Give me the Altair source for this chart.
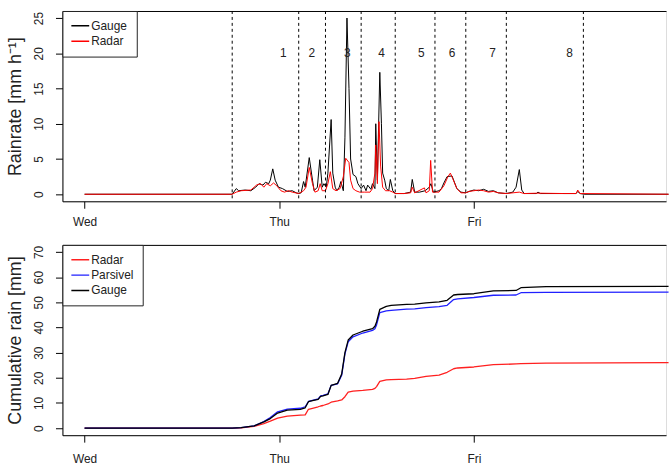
import altair as alt
import pandas as pd

FONT = "Liberation Sans"

# ---------------- top panel: rain rate (hours since Wed 00:00) ----------------
gauge_t = [0, 18.2, 18.7, 19.0, 19.8, 20.5, 21.1, 21.5, 22.0, 22.3, 22.7, 22.9, 23.2, 23.5, 23.9,
           24.4, 25.0, 25.6, 26.1, 26.4, 26.7, 27.0, 27.2, 27.7, 28.1, 28.3, 28.7, 29.0, 29.3, 29.5,
           29.8, 30.0, 30.4, 30.6, 30.9, 31.1, 31.4, 31.6, 31.9, 32.1, 32.35, 32.6, 32.8, 33.1, 33.45,
           33.7, 34.1, 34.4, 34.7, 34.9, 35.3, 35.5, 35.8, 35.9, 36.1, 36.4, 36.6, 36.75, 37.0, 37.2,
           37.5, 37.7, 38.0, 38.3, 39.4, 40.2, 40.4, 40.7, 41.3, 42.0, 42.5, 42.7, 43.0, 43.7, 44.0,
           44.3, 44.7, 45.3, 45.5, 45.9, 46.4, 47.0, 47.4, 48.0, 48.6, 49.2, 49.8, 50.4, 51.0, 52.0,
           52.8, 53.2, 53.6, 53.9, 54.2, 55.7, 55.9, 56.2, 59.1, 60.6, 60.8, 61.1, 61.6, 72.0]
gauge_v = [0, 0, 0.8, 0.5, 0.6, 0.5, 1.0, 1.5, 1.3, 1.7, 1.5, 2.0, 3.6, 2.0, 1.0,
           0.8, 0.4, 0.5, 0.2, 0.1, 0.2, 1.8, 1.0, 5.2, 2.0, 0.5, 1.0, 4.9, 1.0, 1.5,
           1.0, 3.0, 10.6, 3.0, 1.0, 0.5, 1.0, 1.8, 0.5, 8.0, 25.0, 15.0, 5.0, 2.8, 2.5,
           1.5, 0.8, 1.3, 0.5, 1.3, 0.7, 1.5, 0.8, 10.0, 2.0, 17.3, 10.0, 3.0, 2.0, 0.8,
           0.5, 2.1, 0.5, 0.1, 0.1, 0.3, 2.1, 0.3, 0.3, 0.5, 1.0, 1.5, 0.3, 0.5, 0.8,
           1.6, 2.5, 2.6, 2.0, 0.8, 0.3, 0.2, 0.4, 0.6, 0.5, 0.7, 0.4, 0.5, 0.2, 0.1,
           0.3, 1.0, 3.5, 0.6, 0.1, 0.1, 0.3, 0.1, 0.1, 0.1, 0.4, 0.1, 0.0, 0.0]

radar_t = [0, 18.2, 18.7, 19.3, 20.5, 21.2, 21.7, 22.1, 22.45, 22.9, 23.3, 23.7, 24.2, 24.65, 25.1,
           25.6, 26.4, 27.0, 27.3, 27.7, 28.1, 28.4, 28.8, 29.05, 29.3, 29.7, 30.0, 30.3, 30.6, 31.0,
           31.5, 31.9, 32.2, 32.6, 32.8, 33.1, 33.45, 33.9, 34.5, 35.2, 35.5, 35.8, 35.9, 36.1, 36.3,
           36.5, 36.75, 37.1, 37.6, 38.0, 38.3, 39.4, 40.2, 40.4, 40.7, 41.9, 42.1, 42.5, 42.67, 42.9,
           43.7, 44.3, 44.8, 45.1, 45.4, 45.9, 46.4, 47.0, 47.4, 48.0, 48.6, 49.2, 49.8, 50.4, 51.0,
           52.0, 53.6, 54.2, 55.9, 59.1, 60.6, 60.8, 61.1, 72.0]
radar_v = [0, 0, 0.3, 0.5, 0.6, 1.3, 1.5, 1.0, 1.5, 1.2, 1.6, 1.2, 0.5, 0.3, 0.5,
           0.3, 0.1, 0.5, 1.0, 3.8, 1.5, 0.3, 0.5, 1.5, 0.5, 0.5, 1.5, 3.2, 0.8, 0.5,
           0.8, 2.5, 5.1, 4.5, 2.0, 0.8, 0.5, 0.3, 0.3, 0.3, 0.8, 3.0, 7.0, 1.5, 10.3,
           4.0, 1.0, 0.5, 0.5, 0.3, 0.1, 0.1, 0.2, 1.0, 0.2, 0.9, 0.2, 0.5, 4.8, 0.3,
           0.3, 1.2, 2.5, 3.0, 2.2, 0.8, 0.2, 0.2, 0.4, 0.5, 0.6, 0.5, 0.3, 0.4, 0.2,
           0.1, 0.3, 0.1, 0.15, 0.1, 0.1, 0.6, 0.1, 0.0]

sep_t = [18.2, 26.4, 29.7, 34.1, 38.3, 43.2, 47.0, 52.0, 61.5]
event_t = [24.5, 28.0, 32.4, 36.6, 41.5, 45.3, 50.3, 59.8]
event_lab = ["1", "2", "3", "4", "5", "6", "7", "8"]
event_y = 20

# ---------------- bottom panel: cumulative rain ----------------
cum_t = [0, 18.2, 19.3, 20.9, 22.1, 22.9, 23.8, 25.0, 26.6, 27.2, 27.6, 28.1, 28.8, 29.1, 29.4,
         30.0, 30.4, 31.2, 31.7, 32.1, 32.5, 33.1, 34.3, 35.5, 35.8, 36.0, 36.4, 37.2, 37.8, 39.7,
         40.7, 42.1, 43.7, 44.7, 45.5, 46.0, 48.0, 50.4, 53.2, 53.8, 56.9, 72.0]
cum_gauge = [0, 0, 0.2, 0.9, 2.5, 3.8, 6.0, 7.2, 7.5, 8.1, 10.5, 10.9, 11.4, 12.6, 12.8,
             13.4, 17.0, 17.8, 21.5, 30.0, 35.0, 37.0, 38.5, 39.5, 40.5, 42.2, 47.2, 48.4, 48.8, 49.2,
             49.3, 49.8, 50.2, 50.8, 52.9, 53.1, 53.4, 54.5, 54.7, 55.8, 56.2, 56.3]
cum_parsivel = [0, 0, 0.2, 0.9, 2.6, 4.2, 6.5, 7.6, 7.9, 8.5, 10.6, 11.0, 11.6, 12.8, 13.0,
                13.6, 17.0, 17.6, 21.0, 29.5, 34.3, 36.3, 37.8, 38.8, 39.5, 41.0, 45.9, 46.6, 46.8, 47.3,
                47.4, 47.9, 48.3, 48.8, 51.1, 51.4, 51.9, 52.8, 52.9, 53.8, 53.9, 54.0]
cum_radar = [0, 0, 0.1, 0.7, 1.8, 2.8, 4.0, 4.8, 5.2, 5.3, 7.5, 7.9, 8.5, 8.8, 9.0,
             9.6, 10.3, 10.8, 11.2, 12.5, 14.3, 14.7, 15.0, 15.4, 15.8, 16.5, 18.6, 19.2, 19.3, 19.5,
             19.8, 20.6, 21.1, 22.2, 23.6, 23.9, 24.3, 25.2, 25.5, 25.6, 25.8, 26.0]

day_ticks = [0, 24, 48, 72]
day_labels = ["Wed", "Thu", "Fri", "Sat"]
rate_ticks = [0, 5, 10, 15, 20, 25]
cum_ticks = [0, 10, 20, 30, 40, 50, 60, 70]

# ---------------- build tables ----------------
top_df = pd.concat([
    pd.DataFrame({"t": gauge_t, "v": gauge_v, "series": "Gauge"}),
    pd.DataFrame({"t": radar_t, "v": radar_v, "series": "Radar"}),
])
sep_df = pd.DataFrame({"t": sep_t})
ev_df = pd.DataFrame({"t": event_t, "y": [event_y] * len(event_t), "label": event_lab})
cum_df = pd.concat([
    pd.DataFrame({"t": cum_t, "v": cum_radar, "series": "Radar"}),
    pd.DataFrame({"t": cum_t, "v": cum_parsivel, "series": "Parsivel"}),
    pd.DataFrame({"t": cum_t, "v": cum_gauge, "series": "Gauge"}),
])

expr = " : ".join(f"datum.value == {v} ? '{l}'" for v, l in zip(day_ticks, day_labels)) + " : ''"

XDOM = [-2.73, 71.69]
W = 609
H = 192

def xaxis(pad=8):
    return alt.Axis(values=day_ticks[:3], labelExpr=expr, title=None, grid=False, domain=True,
                    domainColor="black", domainWidth=1,
                    tickSize=7, tickColor="black", labelPadding=pad, labelFontSize=12,
                    labelColor="#222", labelFont=FONT)

def topaxis():
    return alt.Axis(orient="top", labels=False, ticks=False, title=None, grid=False, domain=True,
                    domainColor="black", domainWidth=1)

def yaxis(vals, title):
    return alt.Axis(values=vals, title=title, grid=False, domain=True, domainColor="black",
                    tickSize=7, labelOverlap=False,
                    tickColor="black", labelAngle=270, labelAlign="center",
                    labelBaseline="bottom", labelPadding=10, labelFontSize=12,
                    labelColor="#222", labelFont=FONT, titleFont=FONT, titleFontSize=18,
                    titleFontWeight="normal", titleColor="#222", titlePadding=8)

def legend():
    return alt.Legend(orient="top-left", offset=0, title=None, symbolType="stroke",
                      symbolSize=529, symbolStrokeWidth=1.5, labelFontSize=12, labelFont=FONT,
                      labelColor="#222", padding=9, strokeColor="#222", fillColor="white",
                      rowPadding=3.5, labelOffset=1, symbolOffset=-6, clipHeight=12)

xs = alt.Scale(domain=XDOM, nice=False, zero=False)
TOP_TITLE = "Rainrate [mm  h⁻¹]"

top_color = alt.Color("series:N", scale=alt.Scale(domain=["Gauge", "Radar"], range=["black", "red"]),
                      legend=legend())
ys_top = alt.Scale(domain=[-1, 26], nice=False, zero=False)

top_lines = []
for s in ["Gauge", "Radar"]:
    top_lines.append(
        alt.Chart(top_df[top_df.series == s]).mark_line(strokeWidth=1, strokeJoin="round").encode(
            x=alt.X("t:Q", scale=xs, axis=xaxis()),
            y=alt.Y("v:Q", scale=ys_top, axis=yaxis(rate_ticks, TOP_TITLE)),
            color=top_color,
        )
    )

seps = alt.Chart(sep_df).mark_rule(color="black", strokeDash=[3, 3], strokeWidth=1).encode(
    x=alt.X("t:Q", scale=xs, axis=topaxis()))
labels = alt.Chart(ev_df).mark_text(fontSize=12, font=FONT, color="#222").encode(
    x=alt.X("t:Q", scale=xs, axis=xaxis()),
    y=alt.Y("y:Q", scale=ys_top, axis=yaxis(rate_ticks, TOP_TITLE)),
    text="label:N")

top = alt.layer(
    alt.layer(*top_lines, labels),
    seps,
).resolve_axis(x="independent").properties(width=W, height=H)

cum_color = alt.Color("series:N", scale=alt.Scale(domain=["Radar", "Parsivel", "Gauge"],
                                                 range=["#ff2020", "#2020ff", "black"]),
                      legend=legend())
ys_cum = alt.Scale(domain=[-2.8, 72.8], nice=False, zero=False)
cum_lines = []
for s in ["Radar", "Parsivel", "Gauge"]:
    ax = topaxis() if s == "Gauge" else xaxis(12)
    cum_lines.append(
        alt.Chart(cum_df[cum_df.series == s]).mark_line(strokeWidth=1.3, strokeJoin="round").encode(
            x=alt.X("t:Q", scale=xs, axis=ax),
            y=alt.Y("v:Q", scale=ys_cum, axis=yaxis(cum_ticks, "Cumulative rain [mm]")),
            color=cum_color,
        )
    )
bottom = alt.layer(
    alt.layer(cum_lines[0], cum_lines[1]),
    cum_lines[2],
).resolve_axis(x="independent").properties(width=W, height=H)

chart = alt.vconcat(top, bottom, spacing=44, bounds="flush").resolve_scale(
    color="independent"
).properties(
    padding={"left": 6, "top": 8, "right": 0, "bottom": 0}
).configure_view(stroke=None).configure(font=FONT)

chart.save("out.html", embed_options={"renderer": "svg", "actions": False})
